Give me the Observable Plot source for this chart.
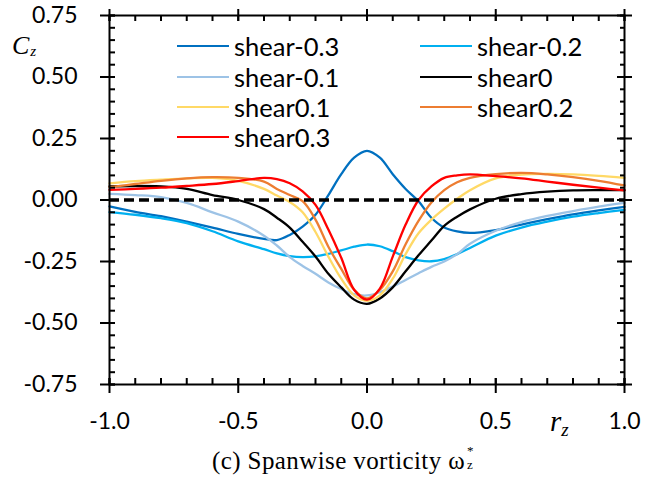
<!DOCTYPE html>
<html><head><meta charset="utf-8">
<script src="https://cdn.jsdelivr.net/npm/d3@7"></script>
<script src="https://cdn.jsdelivr.net/npm/@observablehq/plot@0.6"></script>
<style>
body{margin:0;background:#fff;}
#wrap{position:relative;width:657px;height:479px;overflow:hidden;font-family:Lato,"Open Sans",sans-serif;}
.leg{position:absolute;display:flex;align-items:center;height:30px;font-size:25.5px;line-height:30px;color:#000;white-space:nowrap;}
.leg .sw{display:inline-block;width:52px;height:2.6px;margin-right:5px;}
.math{position:absolute;font-family:"Liberation Serif","DejaVu Serif",serif;font-style:italic;color:#000;white-space:nowrap;line-height:1;}
#caption{position:absolute;left:212px;top:448px;font-family:"Liberation Serif","Times New Roman",serif;font-size:25px;line-height:25px;letter-spacing:0.4px;color:#000;white-space:nowrap;}
</style></head><body><div id="wrap"></div>
<script>
// x positions (r_z)
const rz = [-1, -0.9, -0.8, -0.7, -0.6, -0.5, -0.4, -0.35, -0.3, -0.25, -0.2, -0.15, -0.1, -0.05, 0, 0.05, 0.1, 0.15, 0.2, 0.25, 0.3, 0.35, 0.4, 0.5, 0.6, 0.7, 0.8, 0.9, 1.0];
// C_z values per series
const shearM03 = [-0.026, -0.048, -0.066, -0.088, -0.112, -0.138, -0.158, -0.163, -0.142, -0.108, -0.06, 0.02, 0.105, 0.172, 0.2, 0.172, 0.105, 0.045, -0.005, -0.072, -0.112, -0.128, -0.134, -0.122, -0.1, -0.078, -0.058, -0.042, -0.028];
const shearM02 = [-0.049, -0.06, -0.074, -0.094, -0.127, -0.168, -0.2, -0.217, -0.228, -0.232, -0.229, -0.219, -0.205, -0.19, -0.181, -0.188, -0.208, -0.232, -0.245, -0.249, -0.24, -0.22, -0.195, -0.145, -0.112, -0.088, -0.068, -0.053, -0.04];
const shearM01 = [0.025, 0.02, 0.012, -0.012, -0.05, -0.088, -0.145, -0.185, -0.232, -0.268, -0.3, -0.335, -0.362, -0.383, -0.388, -0.375, -0.352, -0.325, -0.298, -0.272, -0.25, -0.22, -0.178, -0.125, -0.09, -0.065, -0.045, -0.027, -0.012];
const shear0 = [0.055, 0.057, 0.055, 0.045, 0.02, 0.0, -0.037, -0.072, -0.112, -0.17, -0.23, -0.3, -0.355, -0.405, -0.422, -0.4, -0.355, -0.29, -0.225, -0.165, -0.105, -0.068, -0.038, 0.005, 0.024, 0.034, 0.039, 0.04, 0.04];
const shear01 = [0.068, 0.077, 0.083, 0.088, 0.09, 0.078, 0.045, 0.018, -0.008, -0.05, -0.13, -0.23, -0.32, -0.388, -0.41, -0.388, -0.32, -0.22, -0.135, -0.08, -0.035, 0.005, 0.04, 0.088, 0.103, 0.106, 0.104, 0.098, 0.09];
const shear02 = [0.052, 0.065, 0.078, 0.088, 0.093, 0.09, 0.075, 0.045, 0.02, -0.005, -0.08, -0.19, -0.28, -0.365, -0.4, -0.365, -0.29, -0.18, -0.085, -0.01, 0.04, 0.072, 0.09, 0.105, 0.11, 0.104, 0.093, 0.078, 0.059];
const shear03 = [0.041, 0.045, 0.05, 0.057, 0.065, 0.077, 0.09, 0.085, 0.068, 0.035, -0.02, -0.12, -0.235, -0.365, -0.405, -0.36, -0.23, -0.1, 0.0, 0.055, 0.09, 0.1, 0.104, 0.097, 0.088, 0.075, 0.062, 0.05, 0.039];

const seriesNames = ["shear-0.3", "shear-0.2", "shear-0.1", "shear0", "shear0.1", "shear0.2", "shear0.3"];
const seriesColors = ["#0070C0", "#00B0F0", "#9DC3E6", "#000000", "#FFD966", "#ED7D31", "#FF0000"];
const seriesValues = [shearM03, shearM02, shearM01, shear0, shear01, shear02, shear03];

// ticks
const yMajor = [-0.75, -0.5, -0.25, 0, 0.25, 0.5, 0.75];
const yMinor = [-0.75, -0.7, -0.65, -0.6, -0.55, -0.5, -0.45, -0.4, -0.35, -0.3, -0.25, -0.2, -0.15, -0.1, -0.05, 0, 0.05, 0.1, 0.15, 0.2, 0.25, 0.3, 0.35, 0.4, 0.45, 0.5, 0.55, 0.6, 0.65, 0.7, 0.75];
const xMajor = [-1, -0.5, 0, 0.5, 1];
const xMinor = [-1, -0.9, -0.8, -0.7, -0.6, -0.5, -0.4, -0.3, -0.2, -0.1, 0, 0.1, 0.2, 0.3, 0.4, 0.5, 0.6, 0.7, 0.8, 0.9, 1];
const zeroLine = [0];

const table = [];
seriesNames.forEach((name, i) => rz.forEach((x, j) => table.push({series: name, x, y: seriesValues[i][j]})));

const none = () => "";
const chart = Plot.plot({
  width: 657, height: 440,
  marginLeft: 109, marginRight: 33, marginTop: 15, marginBottom: 56,
  style: {fontFamily: "Lato, 'Open Sans', sans-serif", fontSize: "23px", color: "#000", background: "transparent", overflow: "visible"},
  x: {domain: [-1, 1]},
  y: {domain: [-0.75, 0.75]},
  color: {domain: seriesNames, range: seriesColors},
  marks: [
    Plot.line(table, {x: "x", y: "y", z: "series", stroke: "series", strokeWidth: 2.3, curve: "catmull-rom"}),
    Plot.ruleY(zeroLine, {stroke: "#000", strokeWidth: 3.4, strokeDasharray: "10,5"}),
    Plot.frame({stroke: "#000", strokeWidth: 2}),
    Plot.axisY({ticks: yMajor, anchor: "left", tickSize: 15, dx: 6, tickPadding: 23, tickFormat: d => d.toFixed(2), label: null, strokeWidth: 2}),
    Plot.axisY({ticks: yMinor, anchor: "left", tickSize: 6, dx: 6, tickFormat: none, label: null, strokeWidth: 2}),
    Plot.axisY({ticks: yMajor, anchor: "right", tickSize: 15, dx: -8, tickFormat: none, label: null, strokeWidth: 2}),
    Plot.axisY({ticks: yMinor, anchor: "right", tickSize: 5, dx: -5, tickFormat: none, label: null, strokeWidth: 2}),
    Plot.axisX({ticks: xMajor, anchor: "bottom", tickSize: 15, dy: -6, tickPadding: 19, tickFormat: d => d.toFixed(1), label: null, strokeWidth: 2}),
    Plot.axisX({ticks: xMinor, anchor: "bottom", tickSize: 6, dy: -6, tickFormat: none, label: null, strokeWidth: 2}),
    Plot.axisX({ticks: xMajor, anchor: "top", tickSize: 12, dy: 5, tickFormat: none, label: null, strokeWidth: 2}),
    Plot.axisX({ticks: xMinor, anchor: "top", tickSize: 5, dy: 5, tickFormat: none, label: null, strokeWidth: 2})
  ]
});
const wrap = document.getElementById("wrap");
wrap.appendChild(chart);

// legend (HTML)
const legPos = [[177, 31], [420, 31], [177, 62], [420, 62], [177, 92], [420, 92], [177, 122]];
seriesNames.forEach((name, i) => {
  const d = document.createElement("div");
  d.className = "leg";
  d.style.left = legPos[i][0] + "px";
  d.style.top = legPos[i][1] + "px";
  const sw = document.createElement("span");
  sw.className = "sw";
  sw.style.background = seriesColors[i];
  d.appendChild(sw);
  d.appendChild(document.createTextNode(name));
  wrap.appendChild(d);
});

// axis titles
const cz = document.createElement("div");
cz.className = "math";
cz.style.left = "12px"; cz.style.top = "33px";
cz.innerHTML = '<span style="font-size:26px">C</span><span style="font-size:15px;position:relative;top:2px;left:1px">z</span>';
wrap.appendChild(cz);
const rzl = document.createElement("div");
rzl.className = "math";
rzl.style.left = "550px"; rzl.style.top = "407px";
rzl.innerHTML = '<span style="font-size:29px">r</span><span style="font-size:19px;position:relative;top:5px">z</span>';
wrap.appendChild(rzl);

// caption
const cap = document.createElement("div");
cap.id = "caption";
cap.innerHTML = '(c) Spanwise vorticity ω<span style="position:relative;display:inline-block;width:12px;height:1px">' +
  '<span style="position:absolute;left:2px;top:-24px;font-size:13px;line-height:13px">*</span>' +
  '<span style="position:absolute;left:2px;top:-10px;font-size:13px;line-height:13px">z</span></span>';
wrap.appendChild(cap);
</script>
</body></html>
